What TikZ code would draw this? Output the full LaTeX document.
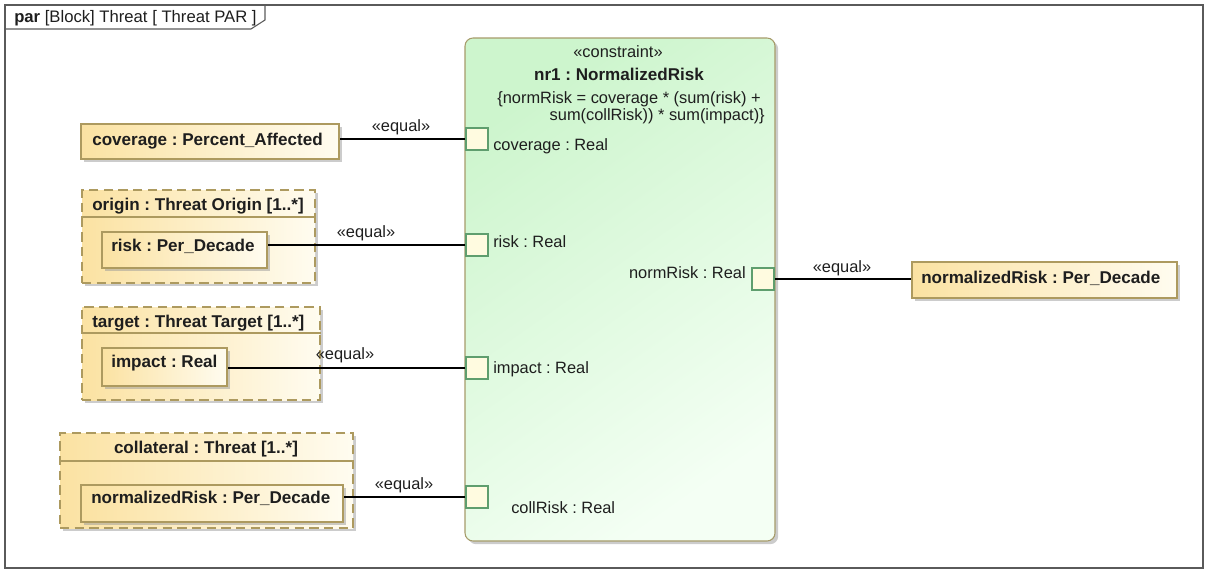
\documentclass[tikz,border=0pt]{standalone}
\usepackage{fontspec}
\setmainfont{Liberation Sans}
\usetikzlibrary{fit,shadows}
\frenchspacing
\definecolor{framec}{HTML}{5A5A5A}
\definecolor{ybord}{HTML}{AD9A5F}
\definecolor{yl}{HTML}{FBE2A2}
\definecolor{yr}{HTML}{FFFCF0}
\definecolor{gbord}{HTML}{A69B6A}
\definecolor{gtop}{HTML}{CDF5CD}
\definecolor{gbot}{HTML}{F4FFF4}
\definecolor{pfill}{HTML}{FFFBE0}
\definecolor{pbord}{HTML}{5F9E6E}
\definecolor{txt}{HTML}{1E1E1E}
\tikzset{
  sh/.style={drop shadow={shadow xshift=2.4pt, shadow yshift=-2.4pt, fill=black!40, opacity=.5}},
  ybox/.style={draw=ybord, line width=0.8pt, left color=yl, right color=yr, sh, inner sep=0pt},
  cbox/.style={draw=ybord, line width=0.8pt, dash pattern=on 7pt off 4pt, left color=yl, right color=yr, sh, inner sep=0pt},
  btxt/.style={font=\bfseries\fontsize{12.8}{15}\selectfont, text=txt, inner sep=0pt, anchor=base west},
  rtxt/.style={font=\fontsize{12.3}{15}\selectfont, text=txt, inner sep=0pt, anchor=base west},
  port/.style={draw=pbord, line width=0.8pt, fill=pfill, inner sep=0pt},
  eq/.style={font=\fontsize{12.3}{15}\selectfont, text=txt, inner sep=0pt, anchor=base},
  conn/.style={draw=black, line width=0.8pt},
}
\begin{document}
\frenchspacing
\begin{tikzpicture}[x=0.75pt,y=-0.75pt]
\useasboundingbox (0,0) rectangle (1206,571);
% frame
\draw[framec, line width=0.8pt] (5,5) rectangle (1203,568);
\draw[framec, line width=0.8pt] (5,29) -- (251,29) -- (265,20) -- (265,5);
\node[rtxt, font=\fontsize{12.5}{15}\selectfont] (title) at (14,22)
  {\textbf{par} [Block] Threat [ Threat PAR ]};

% constraint block
\node[draw=gbord, line width=0.8pt, rounded corners=6pt, top color=gtop, bottom color=gbot, shading angle=35, sh,
  fit={(465,38)(775,541)}, inner sep=0pt] (nr) {};
\node[eq] (st) at (618,57) {«constraint»};
\node[btxt, anchor=base] (nrname) at (619,80) {nr1 : NormalizedRisk};
\node[rtxt, anchor=base east] (expr1) at (761,103) {\{normRisk = coverage * (sum(risk) +};
\node[rtxt, anchor=base east] (expr2) at (765,120) {sum(collRisk)) * sum(impact)\}};

% ports
\node[port, fit={(466,128)(488,150)}] (pcov) {};
\node[port, fit={(466,234)(488,256)}] (prisk) {};
\node[port, fit={(466,357)(488,379)}] (pimp) {};
\node[port, fit={(466,486)(488,508)}] (pcoll) {};
\node[port, fit={(752,268)(774,290)}] (pnorm) {};
\node[rtxt] (lcov) at (493,150) {coverage : Real};
\node[rtxt] (lrisk) at (493,247) {risk : Real};
\node[rtxt] (limp) at (493,373) {impact : Real};
\node[rtxt] (lcoll) at (511,513) {collRisk : Real};
\node[rtxt, anchor=base east] (lnorm) at (746,278) {normRisk : Real};

% left boxes
\node[ybox, fit={(81,124)(339,159)}] (cov) {};
\node[btxt] (covt) at (92,145) {coverage : Percent\_Affected};

\node[cbox, fit={(82,190)(315,283)}] (orig) {};
\draw[ybord, line width=0.8pt] (orig.west |- 0,217) -- (orig.east |- 0,217);
\node[btxt] (origh) at (92,210) {origin : Threat Origin [1..*]};
\node[ybox, fit={(102,232)(267,268)}] (risk) {};
\node[btxt] (riskt) at (111,251) {risk : Per\_Decade};

\node[cbox, fit={(82,307)(320,400)}] (targ) {};
\draw[ybord, line width=0.8pt] (targ.west |- 0,333) -- (targ.east |- 0,333);
\node[btxt] (targh) at (92,327) {target : Threat Target [1..*]};
\node[ybox, fit={(102,348)(227,386)}] (imp) {};
\node[btxt] (impt) at (111,367) {impact : Real};

\node[cbox, fit={(60,433)(353,528)}] (coll) {};
\draw[ybord, line width=0.8pt] (coll.west |- 0,461) -- (coll.east |- 0,461);
\node[btxt, anchor=base] (collh) at (206,453) {collateral : Threat [1..*]};
\node[ybox, fit={(81,485)(343,522)}] (cnr) {};
\node[btxt] (cnrt) at (91,503) {normalizedRisk : Per\_Decade};

% right box
\node[ybox, fit={(912,262)(1177,298)}] (nrr) {};
\node[btxt] (nrrt) at (921,283) {normalizedRisk : Per\_Decade};

% connectors
\draw[conn] (pcov.west) -- (pcov.west -| cov.east);
\draw[conn] (prisk.west) -- (prisk.west -| risk.east);
\draw[conn] (pimp.west) -- (pimp.west -| imp.east);
\draw[conn] (pcoll.west) -- (pcoll.west -| cnr.east);
\draw[conn] (pnorm.east) -- (pnorm.east -| nrr.west);

% labels
\node[eq] (e1) at (401,131) {«equal»};
\node[eq] (e2) at (366,237) {«equal»};
\node[eq] (e3) at (345,359) {«equal»};
\node[eq] (e4) at (404,489) {«equal»};
\node[eq] (e5) at (842,272) {«equal»};
\end{tikzpicture}
\end{document}
